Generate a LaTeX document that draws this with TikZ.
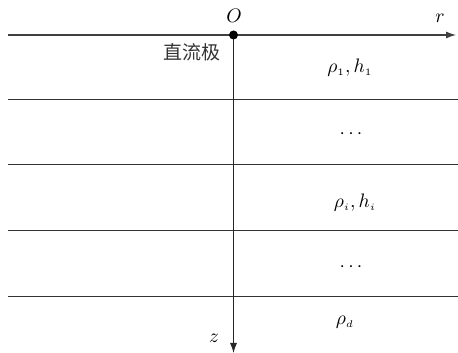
\documentclass[tikz,border=0pt]{standalone}
\usepackage{fontspec}
\newfontfamily\cjk{Noto Sans CJK SC}
\usetikzlibrary{arrows.meta}
\begin{document}
\begin{tikzpicture}[x=1pt,y=1pt,
  axis/.style={line width=1.1pt,draw=black!75,-{Latex[length=10pt,width=7pt]}},
  layer/.style={line width=1pt,draw=black!80},
  lbl/.style={inner sep=0pt,scale=1.95}]
\useasboundingbox (0,0) rectangle (458,353);
% axes
\coordinate (rs) at (8,318);
\coordinate (re) at (456,318);
\coordinate (zs) at (233.5,318);
\coordinate (ze) at (233.5,0);
\draw[axis] (rs) -- (re);
% layers
\foreach \y [count=\i] in {253,188,122,56}{
  \coordinate (l\i a) at (8,\y);
  \coordinate (l\i b) at (458,\y);
  \draw[layer] (l\i a) -- (l\i b);
}
\draw[axis,draw=black!85,line width=0.9pt] (zs) -- (ze);
\fill (zs) circle (4.5pt);
% labels
\node[lbl] (O) at (234,337) {$O$};
\node[lbl] (r) at (440,335) {$r$};
\node[lbl] (z) at (214,15) {$z$};
\node[inner sep=0pt,font=\cjk\fontsize{19}{21}\selectfont,text=black!80] (dc) at (192,301) {直流极};
\node[lbl] (p1) at (350,285) {$\rho_{\scriptscriptstyle 1}, h_{\scriptscriptstyle 1}$};
\node[lbl] (d1) at (351,219) {$\cdots$};
\node[lbl] (pi) at (355,150) {$\rho_{\scriptscriptstyle i}, h_{\scriptscriptstyle i}$};
\node[lbl] (d2) at (351,86) {$\cdots$};
\node[lbl] (pd) at (345,31) {$\rho_{\scriptscriptstyle d}$};
\end{tikzpicture}
\end{document}
